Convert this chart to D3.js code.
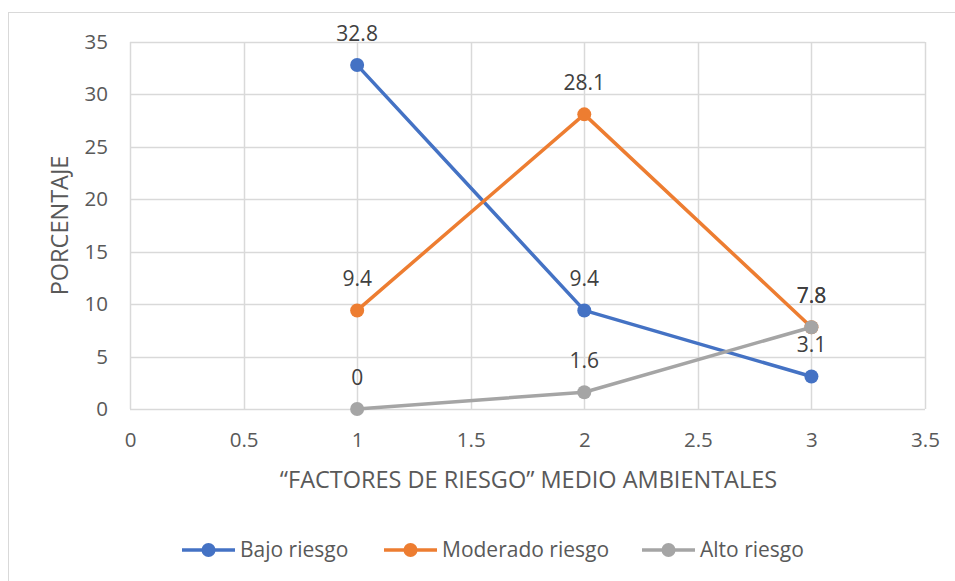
<!DOCTYPE html>
<html lang="es">
<head>
  <meta charset="UTF-8">
  <title>Factores de riesgo medio ambientales</title>
  <script src="https://d3js.org/d3.v7.min.js"></script>
  <style>
    body { margin: 0; background: #fff; }
    text { font-family: "Open Sans", "Liberation Sans", sans-serif; fill: #595959; }
  </style>
</head>
<body>
  <div id="chart"></div>

  <script>
    // data
    const xValues = [1, 2, 3];
    const bajoRiesgo = [32.8, 9.4, 3.1];
    const moderadoRiesgo = [9.4, 28.1, 7.8];
    const altoRiesgo = [0, 1.6, 7.8];
    const seriesNames = ["Bajo riesgo", "Moderado riesgo", "Alto riesgo"];
    const seriesColors = ["#4472C4", "#ED7D31", "#A5A5A5"];
    const xTicks = [0, 0.5, 1, 1.5, 2, 2.5, 3, 3.5];
    const yTicks = [0, 5, 10, 15, 20, 25, 30, 35];

    const width = 955;
    const height = 581;
    const margin = { top: 42, right: 30, bottom: 172, left: 130 };
    const plotW = width - margin.left - margin.right;
    const plotH = height - margin.top - margin.bottom;

    const svg = d3.select("#chart")
      .append("svg")
      .attr("width", width)
      .attr("height", height);

    // outer chart frame
    svg.append("rect")
      .attr("x", 8.5)
      .attr("y", 12.5)
      .attr("width", 960)
      .attr("height", 600)
      .attr("fill", "none")
      .attr("stroke", "#d9d9d9");

    const g = svg.append("g")
      .attr("transform", "translate(" + margin.left + "," + margin.top + ")");

    const x = d3.scaleLinear().domain([0, 3.5]).range([0, plotW]);
    const y = d3.scaleLinear().domain([0, 35]).range([plotH, 0]);

    // gridlines
    g.append("g")
      .selectAll("line")
      .data(yTicks)
      .enter().append("line")
      .attr("x1", 0)
      .attr("x2", plotW)
      .attr("y1", d => Math.round(y(d)) + 0.5)
      .attr("y2", d => Math.round(y(d)) + 0.5)
      .attr("stroke", "#d9d9d9")
      .attr("stroke-width", 1.5);

    g.append("g")
      .selectAll("line")
      .data(xTicks)
      .enter().append("line")
      .attr("y1", 0)
      .attr("y2", plotH)
      .attr("x1", d => Math.round(x(d)) + 0.5)
      .attr("x2", d => Math.round(x(d)) + 0.5)
      .attr("stroke", "#d9d9d9")
      .attr("stroke-width", 1.5);

    // axes (labels only, lines come from the grid)
    const xAxis = g.append("g")
      .attr("transform", "translate(0," + plotH + ")")
      .call(d3.axisBottom(x).tickValues(xTicks).tickSize(0).tickPadding(23).tickFormat(d3.format("")));
    const yAxis = g.append("g")
      .call(d3.axisLeft(y).tickValues(yTicks).tickSize(0).tickPadding(22).tickFormat(d3.format("")));
    [xAxis, yAxis].forEach(a => {
      a.select(".domain").remove();
      a.selectAll("text").style("font-size", "20.5px").attr("fill", "#595959")
        .style("font-family", "\"Open Sans\", sans-serif");
    });

    // axis titles
    svg.append("text")
      .attr("x", margin.left + plotW / 2 + 1)
      .attr("y", 488)
      .attr("text-anchor", "middle")
      .style("font-size", "23.5px")
      .text("\u201CFACTORES DE RIESGO\u201D MEDIO AMBIENTALES");

    svg.append("text")
      .attr("transform", "translate(68," + (margin.top + plotH / 2) + ") rotate(-90)")
      .attr("text-anchor", "middle")
      .style("font-size", "23.5px")
      .text("PORCENTAJE");

    const series = [bajoRiesgo, moderadoRiesgo, altoRiesgo].map((vals, i) => ({
      name: seriesNames[i],
      color: seriesColors[i],
      points: vals.map((v, j) => ({ x: xValues[j], y: v }))
    }));

    const line = d3.line().x(d => x(d.x)).y(d => y(d.y));

    series.forEach(s => {
      const sg = g.append("g");
      sg.append("path")
        .datum(s.points)
        .attr("d", line)
        .attr("fill", "none")
        .attr("stroke", s.color)
        .attr("stroke-width", 3.5)
        .attr("stroke-linejoin", "round");

      sg.selectAll("circle")
        .data(s.points)
        .enter().append("circle")
        .attr("cx", d => x(d.x))
        .attr("cy", d => y(d.y))
        .attr("r", 7)
        .attr("fill", s.color);
    });

    // data labels above each point
    series.forEach(s => {
      g.append("g")
        .selectAll("text")
        .data(s.points)
        .enter().append("text")
        .attr("x", d => x(d.x))
        .attr("y", d => y(d.y) - 24)
        .attr("text-anchor", "middle")
        .style("font-size", "21px")
        .style("fill", "#404040")
        .text(d => d.y);
    });

    // legend
    const legendX = [182, 384, 642];
    const legend = svg.selectAll(".legend")
      .data(series)
      .enter().append("g")
      .attr("class", "legend")
      .attr("transform", (d, i) => "translate(" + legendX[i] + ",550)");

    legend.append("line")
      .attr("x1", 0)
      .attr("x2", 53)
      .attr("stroke", d => d.color)
      .attr("stroke-width", 3.5);

    legend.append("circle")
      .attr("cx", 26.5)
      .attr("r", 7)
      .attr("fill", d => d.color);

    legend.append("text")
      .attr("x", 58)
      .attr("dy", "0.35em")
      .style("font-size", "21px")
      .text(d => d.name);
  </script>
</body>
</html>
